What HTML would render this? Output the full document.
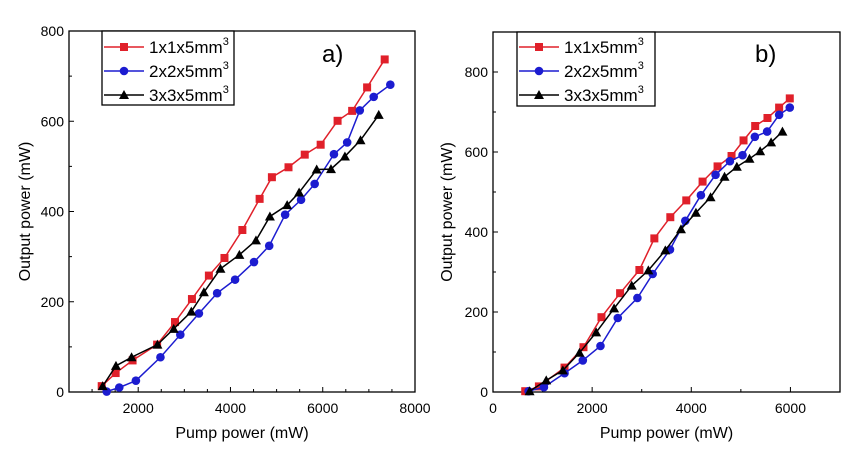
<!DOCTYPE html>
<html><head><meta charset="utf-8"><style>
body{margin:0;background:#fff;}
svg{display:block;font-family:"Liberation Sans",sans-serif;}
</style></head><body>
<svg id="chart" width="866" height="451" viewBox="0 0 866 451"></svg>
<script>
const seriesNames=["1x1x5mm","2x2x5mm","3x3x5mm"];
const aRedX=[1209,1511,1878,2410,2798,3165,3532,3870,4258,4632,4898,5258,5610,5955,6322,6638,6962,7343];
const aRedY=[13,42,70,105,155,206,258,297,359,428,476,498,526,548,601,623,675,737];
const aBlueX=[1317,1590,1950,2482,2913,3316,3711,4100,4510,4840,5185,5530,5825,6243,6530,6803,7105,7465];
const aBlueY=[1,10,25,77,127,174,219,249,288,324,393,426,461,527,553,624,654,681];
const aBlackX=[1230,1518,1856,2417,2770,3151,3424,3783,4193,4553,4855,5229,5488,5869,6179,6481,6819,7214];
const aBlackY=[13,58,77,105,140,178,221,273,304,336,389,414,442,493,494,522,558,614];
const bRedX=[650,926,1443,1825,2188,2564,2953,3255,3577,3899,4228,4530,4812,5054,5289,5537,5772,5987];
const bRedY=[2,14,61,112,187,247,305,384,437,479,526,564,590,629,665,685,711,734];
const bBlueX=[718,1027,1443,1812,2168,2517,2913,3221,3570,3879,4194,4490,4779,5034,5282,5530,5772,5987];
const bBlueY=[2,12,47,79,115,185,235,295,356,428,492,543,577,592,638,651,693,711];
const bBlackX=[738,1074,1409,1745,2081,2443,2798,3134,3476,3792,4094,4389,4671,4919,5174,5389,5610,5839];
const bBlackY=[2,29,54,98,149,209,266,304,354,407,448,487,538,563,583,602,624,651];
const aXTicks=[2000,4000,6000,8000];
const aYTicks=[0,200,400,600,800];
const bXTicks=[0,2000,4000,6000];
const bYTicks=[0,200,400,600,800];

const svg=document.getElementById('chart');
const NS='http://www.w3.org/2000/svg';
function mk(tag,attrs,parent){const e=document.createElementNS(NS,tag);for(const k in attrs)e.setAttribute(k,attrs[k]);(parent||svg).appendChild(e);return e;}
const colors=['#e0202a','#1c1cd0','#000'];

function panel(p){
  const g=mk('g',{});
  
  
  const sx=v=>p.L+(v-p.x0)/(p.x1-p.x0)*(p.R-p.L);
  const sy=v=>p.B-(v-p.y0)/(p.y1-p.y0)*(p.B-p.T);
  // ticks
  for(let v=p.x0;v<=p.x1;v+=p.xMinor){
    const X=sx(v);const major=p.xt.includes(v);
    const t=mk('line',{x1:X,x2:X,y1:p.B,y2:p.B-(major?5:3),stroke:'#000','stroke-width':1},g);
    
  }
  p.xt.forEach(v=>{const t=mk('text',{x:sx(v),y:p.B+21,'text-anchor':'middle','font-size':14},g);t.textContent=v;
    });
  for(let v=p.y0;v<=p.y1;v+=100){
    const Y=sy(v);const major=p.yt.includes(v);
    const t=mk('line',{x1:p.L,x2:p.L+(major?5:3),y1:Y,y2:Y,stroke:'#000','stroke-width':1},g);
    
  }
  p.yt.forEach(v=>{const t=mk('text',{x:p.L-5,y:sy(v)+5,'text-anchor':'end','font-size':14},g);t.textContent=v;
    });
  const fr=mk('rect',{x:p.L,y:p.T,width:p.R-p.L,height:p.B-p.T,fill:'none',stroke:'#000','stroke-width':1.3},g);
  
  const xt=mk('text',{x:(p.L+p.R)/2,y:438,'text-anchor':'middle','font-size':16},g);xt.textContent='Pump power (mW)';
  
  const yc=(p.T+p.B)/2;
  const yt=mk('text',{x:p.yTitleX,y:yc,'text-anchor':'middle','font-size':16,transform:`rotate(-90 ${p.yTitleX} ${yc})`},g);yt.textContent='Output power (mW)';
  
  const lab=mk('text',{x:p.labX,y:62,'font-size':24},g);lab.textContent=p.label;
  
  // series
  p.series.forEach((s,i)=>{
    const pts=s[0].map((x,j)=>sx(x)+','+sy(s[1][j])).join(' ');
    const pl=mk('polyline',{points:pts,fill:'none',stroke:colors[i],'stroke-width':1.5},g);
    
    s[0].forEach((x,j)=>{const m=marker(i,sx(x),sy(s[1][j]),g);
      });
  });
  // legend
  const lg=mk('g',{},g);
  
  mk('rect',{x:p.lgX,y:p.T,width:p.lgW,height:74,fill:'#fff',stroke:'#000','stroke-width':1.3},lg);
  [47,71,95].forEach((Y,i)=>{
    const e=mk('g',{},lg);
    
    mk('line',{x1:p.lgX+2,x2:p.lgX+42,y1:Y,y2:Y,stroke:colors[i],'stroke-width':1.5},e);
    marker(i,p.lgX+22,Y,e);
    const t=mk('text',{x:p.lgX+47,y:Y+6,'font-size':17},e);
    t.textContent=seriesNames[i];
    const sup=mk('tspan',{dy:-8,'font-size':11},t);sup.textContent='3';
  });
}
function marker(i,x,y,g){
  if(i===0)return mk('rect',{x:x-4,y:y-4,width:8,height:8,fill:colors[0]},g);
  if(i===1)return mk('circle',{cx:x,cy:y,r:4.3,fill:colors[1]},g);
  return mk('polygon',{points:`${x},${y-5} ${x+5},${y+4} ${x-5},${y+4}`,fill:'#000'},g);
}
panel({name:'panel-a',L:69,R:415,T:31,B:392,x0:500,x1:8000,y0:0,y1:800,xMinor:500,xt:aXTicks,yt:aYTicks,
  yTitleX:30,label:'a)',labX:322,lgX:102,lgW:132,
  series:[[aRedX,aRedY],[aBlueX,aBlueY],[aBlackX,aBlackY]]});
panel({name:'panel-b',L:493,R:840,T:32,B:392,x0:0,x1:7000,y0:0,y1:900,xMinor:1000,xt:bXTicks,yt:bYTicks,
  yTitleX:452,label:'b)',labX:755,lgX:517,lgW:138,
  series:[[bRedX,bRedY],[bBlueX,bBlueY],[bBlackX,bBlackY]]});
</script>
</body></html>
